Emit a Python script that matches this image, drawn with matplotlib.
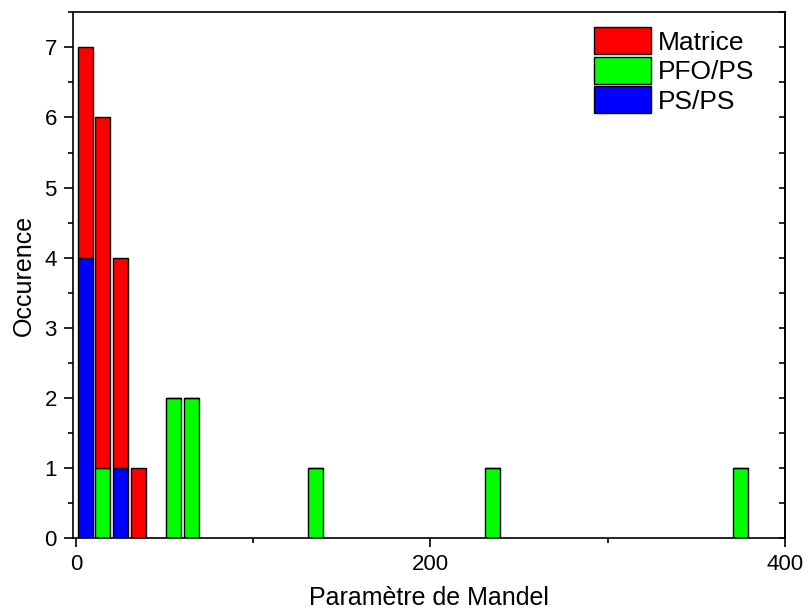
import numpy as np
import matplotlib.pyplot as plt
from matplotlib.ticker import MultipleLocator

plt.rcParams['font.family'] = ['Liberation Sans', 'DejaVu Sans']

# Bin centres of the histogram (bin width 10)
centres = [5, 15, 25, 35, 55, 65, 135, 235, 375]

# Counts per category in each bin
ps_ps = [4, 0, 1, 0, 0, 0, 0, 0, 0]
pfo_ps = [0, 1, 0, 0, 2, 2, 1, 1, 1]
matrice = [3, 5, 3, 1, 0, 0, 0, 0, 0]

fig = plt.figure(figsize=(8.09, 6.15), dpi=100)
ax = fig.add_axes([0.0899, 0.125, 0.880, 0.855])

width = 8.5
x = np.array(centres)
b1 = ax.bar(x, ps_ps, width, color='#0000ff', edgecolor='black', linewidth=1, label='PS/PS')
b2 = ax.bar(x, pfo_ps, width, bottom=ps_ps, color='#00ff00', edgecolor='black', linewidth=1, label='PFO/PS')
bottom2 = np.array(ps_ps) + np.array(pfo_ps)
b3 = ax.bar(x, matrice, width, bottom=bottom2, color='#ff0000', edgecolor='black', linewidth=1, label='Matrice')

ax.set_xlim(-2, 400)
ax.set_ylim(0, 7.5)
ax.set_xticks([0, 200, 400])
ax.xaxis.set_minor_locator(MultipleLocator(100))
ax.yaxis.set_major_locator(MultipleLocator(1))
ax.yaxis.set_minor_locator(MultipleLocator(0.5))

ax.tick_params(axis='both', which='major', direction='out', length=6.5, width=1.2,
               labelsize=16, pad=5)
ax.tick_params(axis='both', which='minor', direction='out', length=3.5, width=1.2)
for sp in ax.spines.values():
    sp.set_linewidth(1.2)

# right-hand axis: ticks pointing inwards, no labels
rax = ax.secondary_yaxis('right')
rax.yaxis.set_major_locator(MultipleLocator(0.5))
rax.tick_params(which='both', direction='in', length=4, width=1.2, labelright=False)
rax.spines['right'].set_linewidth(1.2)

ax.set_xlabel('Paramètre de Mandel', fontsize=18, labelpad=8)
ax.set_ylabel('Occurence', fontsize=18, labelpad=6)

ax.legend(handles=[b3, b2, b1], loc='upper left', bbox_to_anchor=(0.732, 0.9715),
          frameon=False, fontsize=19, handlelength=2.15, handleheight=1.2,
          handletextpad=0.26, labelspacing=0.08, borderpad=0, borderaxespad=0)

fig.savefig('out.png', dpi=100)
